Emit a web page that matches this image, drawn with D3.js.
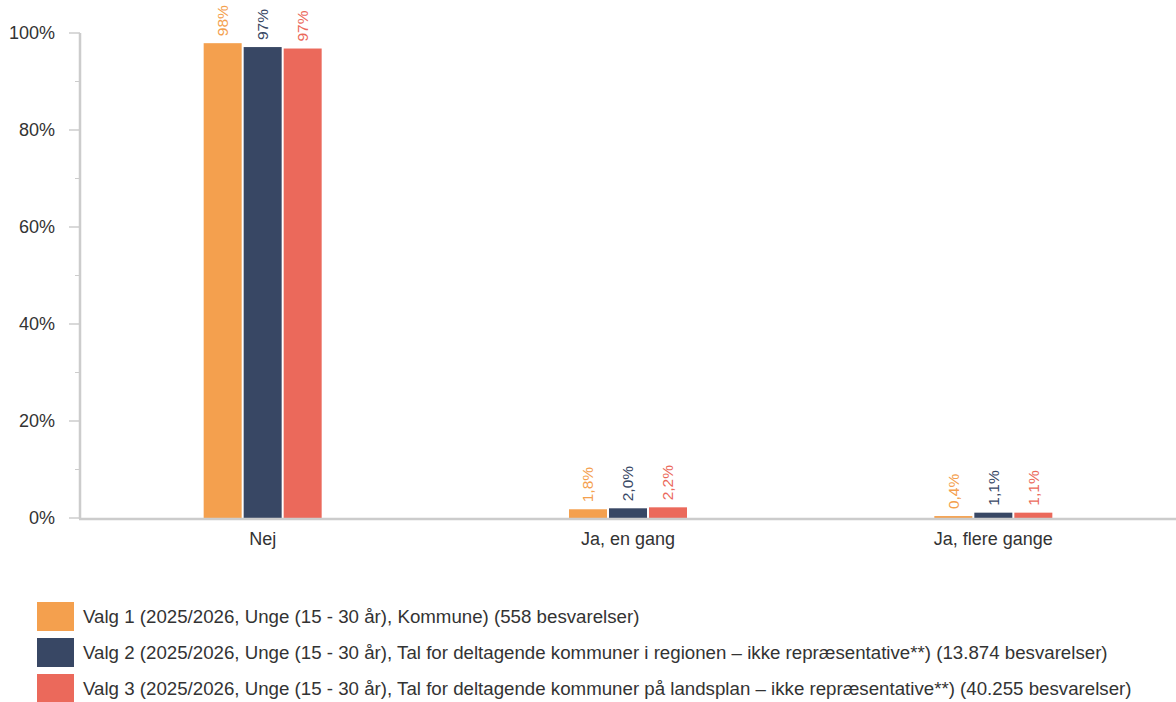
<!DOCTYPE html>
<html><head><meta charset="utf-8">
<script src="https://cdn.jsdelivr.net/npm/d3@7"></script>
<style>body{margin:0;background:#fff;font-family:Arial,"Liberation Sans",sans-serif;}</style>
</head><body><svg id="c" width="1176" height="702"></svg>
<script>
const categories = ["Nej", "Ja, en gang", "Ja, flere gange"];
const seriesNames = [
  "Valg 1 (2025/2026, Unge (15 - 30 år), Kommune) (558 besvarelser)",
  "Valg 2 (2025/2026, Unge (15 - 30 år), Tal for deltagende kommuner i regionen – ikke repræsentative**) (13.874 besvarelser)",
  "Valg 3 (2025/2026, Unge (15 - 30 år), Tal for deltagende kommuner på landsplan – ikke repræsentative**) (40.255 besvarelser)"
];
const valg1 = [97.9, 1.8, 0.4];
const valg2 = [97.1, 2.0, 1.1];
const valg3 = [96.8, 2.2, 1.1];
const labels1 = ["98%", "1,8%", "0,4%"];
const labels2 = ["97%", "2,0%", "1,1%"];
const labels3 = ["97%", "2,2%", "1,1%"];
const colors = ["#f4a04e", "#384764", "#eb695b"];
const yTicks = [0, 20, 40, 60, 80, 100];
const yMinor = [10, 30, 50, 70, 90];

(function(){
const series = [valg1, valg2, valg3];
const seriesLabels = [labels1, labels2, labels3];

const svg = d3.select("#c");
const mLeft = 80, mRight = 1176, mTop = 33, mBottom = 518;
const x = d3.scaleBand().domain(categories).range([mLeft, mRight]);
const y = d3.scaleLinear().domain([0, 100]).range([mBottom, mTop]);
const barW = 38, gap = 2;

svg.append("g").selectAll("line").data(yMinor).join("line")
  .attr("x1", mLeft - 5).attr("x2", mLeft).attr("y1", d => y(d)).attr("y2", d => y(d))
  .attr("stroke", "#ccc").attr("stroke-width", 1);
svg.append("g").selectAll("line").data(yTicks).join("line")
  .attr("x1", mLeft - 11).attr("x2", mLeft).attr("y1", d => y(d)).attr("y2", d => y(d))
  .attr("stroke", "#ccc").attr("stroke-width", 1.5);
svg.append("g").selectAll("text").data(yTicks).join("text")
  .attr("x", 55).attr("y", d => y(d)).attr("dy", "0.35em")
  .attr("text-anchor", "end").attr("font-size", 18).attr("fill", "#333")
  .text(d => d + "%");

series.forEach((vals, si) => {
  const g = svg.append("g");
  categories.forEach((c, ci) => {
    const cx = x(c) + x.bandwidth() / 2;
    const bx = cx - (3 * barW + 2 * gap) / 2 + si * (barW + gap);
    g.append("rect").attr("x", bx).attr("y", y(vals[ci]))
      .attr("width", barW).attr("height", y(0) - y(vals[ci]))
      .attr("fill", colors[si]);
    g.append("text")
      .attr("transform", `translate(${bx + barW / 2},${y(vals[ci]) - 7}) rotate(-90)`)
      .attr("dy", "0.35em")
      .attr("font-size", 15.5).attr("fill", colors[si])
      .text(seriesLabels[si][ci]);
  });
});

svg.append("line").attr("x1", mLeft).attr("x2", mLeft).attr("y1", mTop).attr("y2", mBottom + 1)
  .attr("stroke", "#ccc").attr("stroke-width", 2.5);
svg.append("line").attr("x1", mLeft - 1).attr("x2", mRight).attr("y1", mBottom + 1).attr("y2", mBottom + 1)
  .attr("stroke", "#ccc").attr("stroke-width", 2.5);

svg.append("g").selectAll("text").data(categories).join("text")
  .attr("x", d => x(d) + x.bandwidth() / 2).attr("y", 545)
  .attr("text-anchor", "middle").attr("font-size", 18).attr("fill", "#333")
  .text(d => d);

const lg = svg.append("g");
seriesNames.forEach((n, i) => {
  const yy = 602 + i * 36;
  lg.append("rect").attr("x", 37).attr("y", yy).attr("width", 37).attr("height", 29).attr("fill", colors[i]);
  lg.append("text").attr("x", 83).attr("y", yy + 14.5).attr("dy", "0.35em")
    .attr("font-size", 18.7).attr("fill", "#333").text(n);
});
})();
</script></body></html>
